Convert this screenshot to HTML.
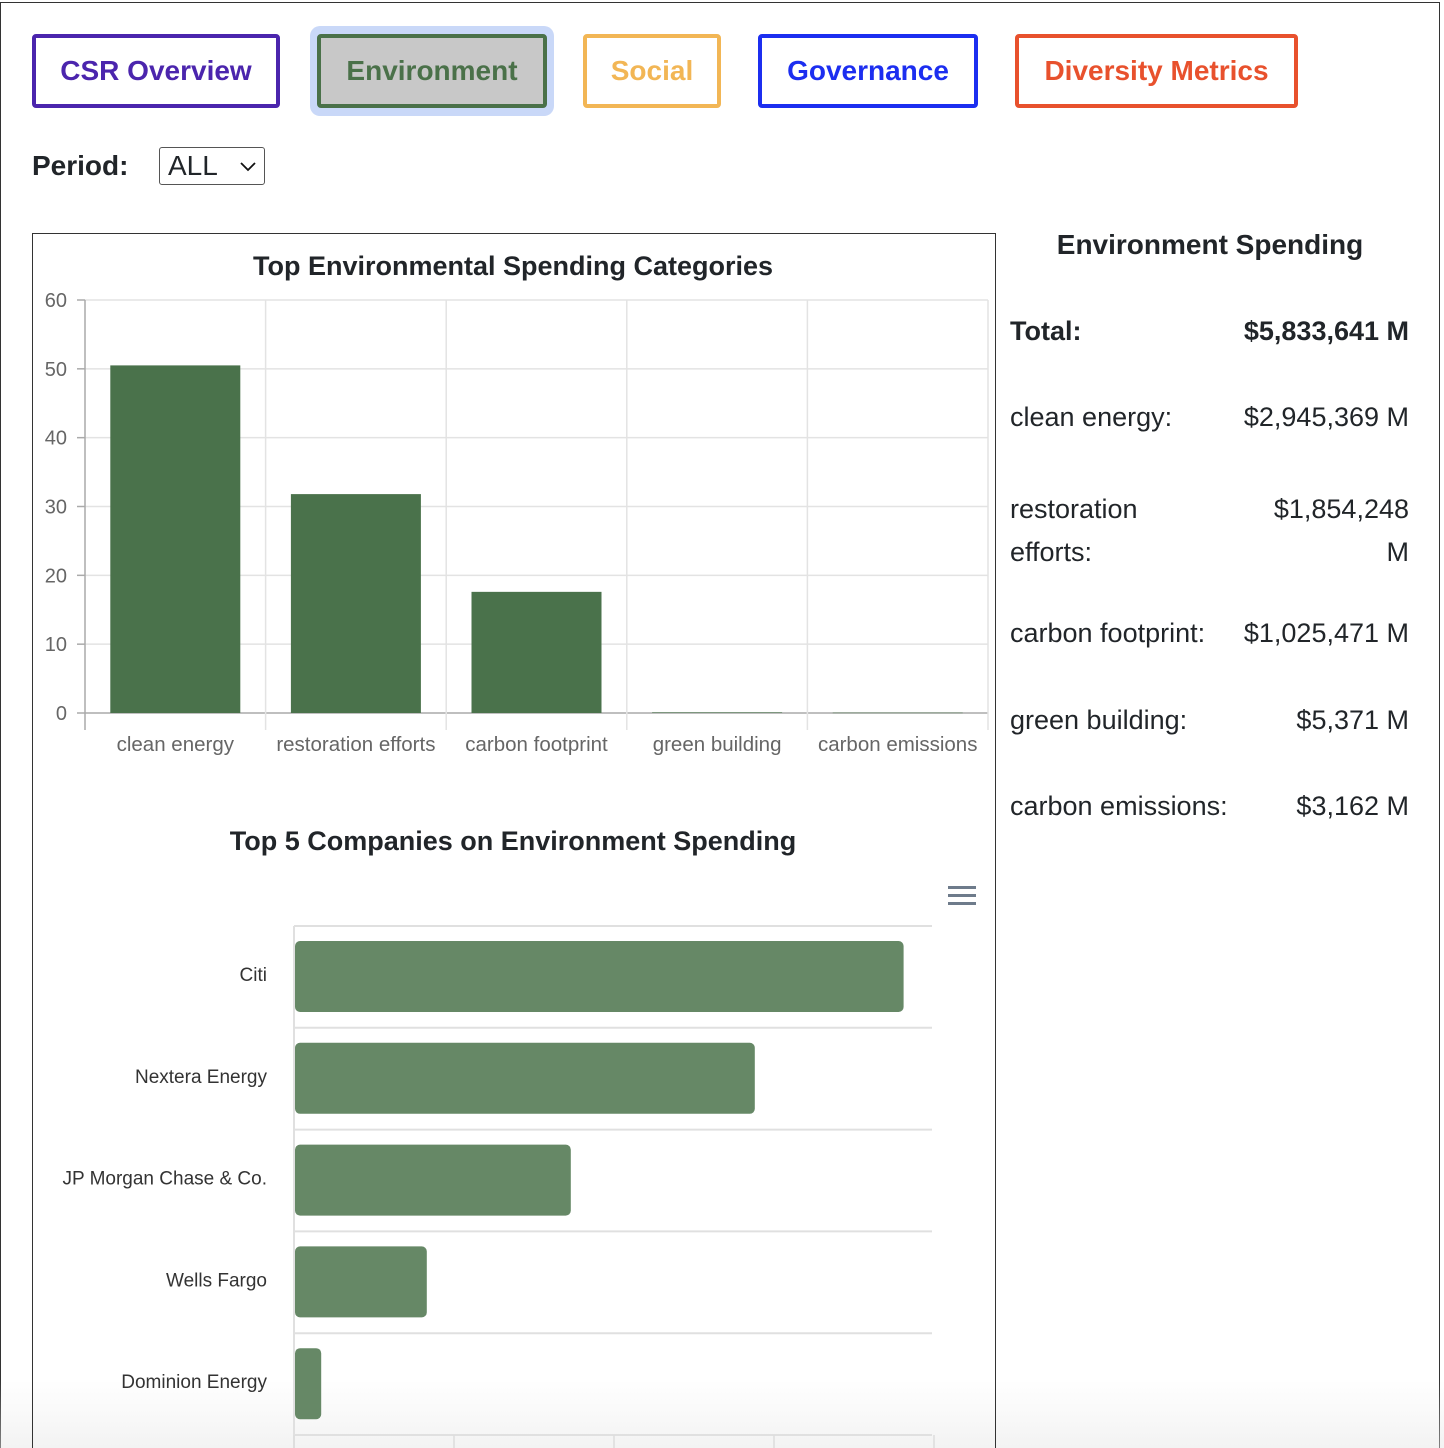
<!DOCTYPE html>
<html><head><meta charset="utf-8"><style>
*{box-sizing:border-box;margin:0;padding:0}
html,body{width:1444px;height:1448px;overflow:hidden}
body{position:relative;background:#fff;font-family:"Liberation Sans",Arial,sans-serif;color:#212529}
.frame{position:absolute;left:0;top:2px;width:1440px;height:1446px;border:1.5px solid #333;border-bottom:none}
.fade{position:absolute;left:0;top:1380px;width:1444px;height:68px;background:linear-gradient(rgba(255,255,255,0),rgba(228,228,228,0.45));pointer-events:none}
.btn{position:absolute;top:34px;height:74px;border:4px solid;border-radius:4px;background:#fff;font-weight:bold;font-size:28px;display:flex;align-items:center;justify-content:center}
.row{position:absolute;left:1010px;width:399px;font-size:27px;display:flex;justify-content:space-between}
</style></head><body>
<div class="frame"></div>
<div class="fade"></div>
<div class="btn" style="left:32px;width:248px;border-color:#4b25ad;color:#4b25ad">CSR Overview</div>
<div style="position:absolute;left:310px;top:26px;width:244px;height:90px;border-radius:10px;background:#c9d8f8"></div>
<div class="btn" style="left:317px;width:230px;border-color:#4a7149;color:#4a7149;background:#c8c8c8">Environment</div>
<div class="btn" style="left:583px;width:138px;border-color:#f2b655;color:#f2b655">Social</div>
<div class="btn" style="left:758px;width:220px;border-color:#1c2ef0;color:#1c2ef0">Governance</div>
<div class="btn" style="left:1015px;width:283px;border-color:#e8512d;color:#e8512d">Diversity Metrics</div>
<div style="position:absolute;left:32px;top:150px;font-size:28px;font-weight:bold">Period:</div>
<div style="position:absolute;left:159px;top:147px;width:106px;height:38px;border:1px solid #555;border-radius:3px;font-size:28px;padding:2px 0 0 8px">ALL<svg style="position:absolute;right:8px;top:14px" width="16" height="10"><polyline points="1,1 8,8 15,1" fill="none" stroke="#111" stroke-width="1.8"/></svg></div>

<div style="position:absolute;left:32px;top:233px;width:964px;height:1215px;border:1px solid #333;border-bottom:none"></div>
<svg id="c1" style="position:absolute;left:0;top:0" width="1000" height="1448"></svg>

<div style="position:absolute;left:1010px;top:229px;width:400px;text-align:center;font-size:28px;font-weight:bold">Environment Spending</div>
<div class="row" style="top:316px;font-weight:bold"><span>Total:</span><span>$5,833,641 M</span></div>
<div class="row" style="top:402px"><span>clean energy:</span><span>$2,945,369 M</span></div>
<div class="row" style="top:488px;line-height:43px"><span>restoration<br>efforts:</span><span style="text-align:right">$1,854,248<br>M</span></div>
<div class="row" style="top:618px"><span>carbon footprint:</span><span>$1,025,471 M</span></div>
<div class="row" style="top:705px"><span>green building:</span><span>$5,371 M</span></div>
<div class="row" style="top:791px"><span>carbon emissions:</span><span>$3,162 M</span></div>
<script>
const categories=["clean energy","restoration efforts","carbon footprint","green building","carbon emissions"];
const categoryValues=[50.5,31.8,17.6,0.09,0.05];
const yTicks=[0,10,20,30,40,50,60];
const companies=["Citi","Nextera Energy","JP Morgan Chase & Co.","Wells Fargo","Dominion Energy"];
const companyValues=[3.81,2.88,1.73,0.83,0.17];
const xTicks=[0,1,2,3,4];

const NS="http://www.w3.org/2000/svg";
const svg=document.getElementById('c1');
function mk(t,a,txt){const e=document.createElementNS(NS,t);for(const k in a)e.setAttribute(k,a[k]);if(txt!==undefined)e.textContent=txt;svg.appendChild(e);return e;}

const L=85,R=988,T=300,B=713;
const y=v=>B-(v/60)*(B-T);
const bw=(R-L)/categories.length;
const x=i=>L+i*bw;
let t=mk('text',{x:513,y:275,'text-anchor':'middle','font-size':27,'font-weight':'bold',fill:'#212529'},'Top Environmental Spending Categories');

yTicks.forEach(v=>{
  let g=mk('line',{x1:L,x2:R,y1:y(v),y2:y(v),stroke:v===0?'#aaa':'#e3e3e3','stroke-width':1.5});
  
  mk('line',{x1:L-8,x2:L,y1:y(v),y2:y(v),stroke:'#aaa','stroke-width':1.5});
  let l=mk('text',{x:L-18,y:y(v)+7,'text-anchor':'end','font-size':20,fill:'#666'},v);
  
});
for(let i=0;i<=categories.length;i++){
  mk('line',{x1:x(i),x2:x(i),y1:T,y2:B+17,stroke:i===0?'#aaa':'#e3e3e3','stroke-width':1.5});
}
categories.forEach((c,i)=>{
  const v=categoryValues[i];
  let r=mk('rect',{x:x(i)+bw/2-65,y:y(v),width:130,height:Math.max(B-y(v),0.5),fill:'#4a724b'});
  
  let l=mk('text',{x:x(i)+bw/2,y:751,'text-anchor':'middle','font-size':20.5,fill:'#666'},c);
  
});

const HL=294,HR=934,HT=926,rowH=101.8;
const hx=v=>HL+v*160;
t=mk('text',{x:513,y:850,'text-anchor':'middle','font-size':27,'font-weight':'bold',fill:'#212529'},'Top 5 Companies on Environment Spending');

[0,8,16].forEach(d=>{let m=mk('rect',{x:948,y:886+d,width:28,height:3,fill:'#6e7b8b'});});
for(let i=0;i<=companies.length;i++){
  mk('line',{x1:HL,x2:932,y1:HT+i*rowH,y2:HT+i*rowH,stroke:'#e0e0e0','stroke-width':2});
}
mk('line',{x1:HL,x2:HL,y1:HT,y2:1448,stroke:'#e0e0e0','stroke-width':2});
xTicks.forEach(v=>{mk('line',{x1:hx(v),x2:hx(v),y1:HT+5*rowH,y2:1448,stroke:'#ddd','stroke-width':1.5});});
companies.forEach((c,i)=>{
  const v=companyValues[i];
  let r=mk('rect',{x:HL+1,y:HT+i*rowH+15,width:hx(v)-HL-1,height:71,rx:5,fill:'#668866'});
  
  let l=mk('text',{x:267,y:HT+i*rowH+55,'text-anchor':'end','font-size':19,fill:'#333'},c);
  
});
</script>
</body></html>
